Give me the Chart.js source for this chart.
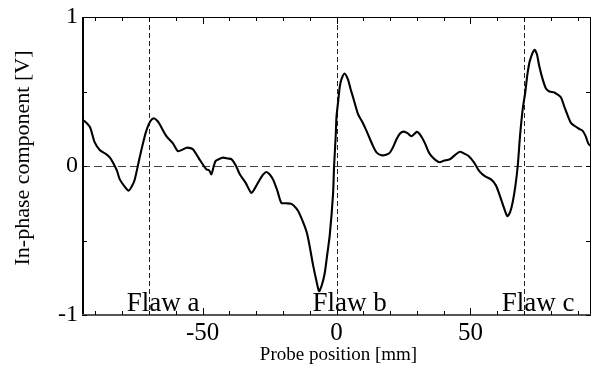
<!DOCTYPE html>
<html>
<head>
<meta charset="utf-8">
<script src="https://cdn.jsdelivr.net/npm/chart.js@4.4.1/dist/chart.umd.min.js"></script>
<style>
html,body{margin:0;padding:0;background:#fff;}
#wrap{width:593px;height:367px;}
</style>
</head>
<body>
<div id="wrap"><canvas id="c" width="593" height="367"></canvas></div>
<script>
// Probe position [mm]
const positions = [-95,-94,-92,-90.3,-88.3,-86,-84.5,-83.4,-82,-80.9,-79,-77.6,-76.5,-75.3,-73.5,-72,-71,-69.5,-68.2,-67,-66,-63.5,-61,-59.2,-57.5,-56,-54.5,-53.6,-52,-51,-49.5,-48.6,-47.5,-46.7,-45.8,-45.1,-44,-42.4,-40.5,-39.2,-37.5,-36.1,-34,-31.8,-30.5,-29.3,-27.5,-26.2,-25,-23.7,-22,-20.6,-19,-16.8,-15,-13.7,-11.2,-10,-8.8,-7.5,-6.5,-5.5,-4.4,-3.5,-2.5,-1.3,-0.9,-0.3,0,0.6,1.2,1.8,3.0,4.3,5.2,6.2,8.0,9.5,11.2,13.6,15,16.8,18.5,19.9,21.2,22.4,23.8,25.1,26.5,28.0,30.0,31.2,32.9,34.5,35.4,37,38.5,40,42.3,44,46.0,47.5,49.3,51.5,53.3,55.5,57.7,59.5,60.8,62.5,63.8,64.8,65.8,66.8,67.7,68.5,69.5,70.5,71.3,72.2,73.9,74.8,75.7,77,78.2,79.5,81.3,82.5,83.8,85,86.5,87.5,88.8,90.5,91.9,93,94,94.8];
// In-phase component [V]
const inPhase = [0.31,0.30,0.26,0.16,0.106,0.08,0.055,0.022,-0.03,-0.09,-0.14,-0.165,-0.14,-0.09,0.056,0.17,0.236,0.30,0.32,0.305,0.28,0.20,0.15,0.10,0.11,0.123,0.12,0.112,0.07,0.04,0.0,-0.022,-0.03,-0.056,0.0,0.034,0.045,0.056,0.05,0.045,0.0,-0.056,-0.11,-0.18,-0.15,-0.112,-0.06,-0.04,-0.055,-0.09,-0.17,-0.247,-0.25,-0.254,-0.285,-0.325,-0.44,-0.54,-0.66,-0.77,-0.84,-0.80,-0.72,-0.60,-0.46,-0.19,0.0,0.2,0.33,0.43,0.53,0.58,0.62,0.58,0.52,0.46,0.35,0.30,0.236,0.135,0.09,0.072,0.075,0.09,0.13,0.18,0.22,0.231,0.22,0.20,0.229,0.21,0.157,0.09,0.067,0.04,0.025,0.035,0.045,0.07,0.096,0.085,0.067,0.02,-0.034,-0.07,-0.09,-0.13,-0.19,-0.28,-0.337,-0.31,-0.24,-0.13,0.01,0.2,0.38,0.50,0.62,0.707,0.78,0.75,0.67,0.58,0.52,0.50,0.494,0.48,0.46,0.40,0.33,0.29,0.27,0.25,0.236,0.20,0.15,0.135];
const xTickLabels = [-50, 0, 50];
const yTickLabels = [-1, 0, 1];
const xMinorTicks = [-90,-80,-70,-60,-50,-40,-30,-20,-10,0,10,20,30,40,50,60,70,80,90];
const yMinorTicks = [-1,-0.5,0,0.5,1];
const flawPositions = [-70, 0, 70];
const flawNames = ["Flaw a", "Flaw b", "Flaw c"];
const flawLabelLeft = [-78.3, -9.0, 61.7]; // label start positions [mm]
const xRange = [-95, 95];
const yRange = [-1, 1];

const SERIF = "'Liberation Serif', 'Times New Roman', serif";

const decor = {
  id: 'decor',
  beforeDatasetsDraw(chart) {
    const {ctx, chartArea: a, scales: {x, y}} = chart;
    ctx.save();
    ctx.strokeStyle = '#444';
    ctx.lineWidth = 1.2;
    ctx.setLineDash([8, 4]);
    ctx.beginPath();
    const y0 = Math.round(y.getPixelForValue(0)) + 0.5;
    ctx.moveTo(a.left, y0); ctx.lineTo(a.right, y0);
    ctx.stroke();
    ctx.strokeStyle = '#222';
    ctx.lineWidth = 1;
    ctx.setLineDash([5, 3]);
    flawPositions.forEach(v => {
      const px = Math.round(x.getPixelForValue(v)) + 0.5;
      ctx.beginPath(); ctx.moveTo(px, a.top); ctx.lineTo(px, a.bottom); ctx.stroke();
    });
    ctx.restore();
  },
  afterDraw(chart) {
    const {ctx, chartArea: a, scales: {x, y}} = chart;
    ctx.save();
    ctx.setLineDash([]);
    ctx.strokeStyle = '#000';
    ctx.lineWidth = 1;
    ctx.beginPath();
    ctx.moveTo(a.left, a.top + 0.5); ctx.lineTo(a.right, a.top + 0.5);
    ctx.moveTo(a.right - 0.5, a.top); ctx.lineTo(a.right - 0.5, a.bottom);
    ctx.stroke();
    ctx.lineWidth = 2;
    ctx.beginPath();
    ctx.moveTo(a.left + 1, a.top); ctx.lineTo(a.left + 1, a.bottom + 1);
    ctx.stroke();
    ctx.strokeStyle = '#555';
    ctx.beginPath();
    ctx.moveTo(a.left, a.bottom); ctx.lineTo(a.right, a.bottom);
    ctx.stroke();
    ctx.strokeStyle = '#000';
    ctx.lineWidth = 1;
    xMinorTicks.forEach(v => {
      const px = Math.round(x.getPixelForValue(v)) + 0.5;
      const len = xTickLabels.includes(v) ? 7 : 4;
      ctx.beginPath();
      ctx.moveTo(px, a.bottom); ctx.lineTo(px, a.bottom - len);
      ctx.moveTo(px, a.top); ctx.lineTo(px, a.top + len);
      ctx.stroke();
    });
    yMinorTicks.forEach(v => {
      const py = Math.round(y.getPixelForValue(v)) + 0.5;
      ctx.beginPath();
      ctx.moveTo(a.left, py); ctx.lineTo(a.left + 5, py);
      ctx.moveTo(a.right, py); ctx.lineTo(a.right - 5, py);
      ctx.stroke();
    });
    ctx.fillStyle = '#000';
    ctx.font = "27px " + SERIF;
    ctx.textBaseline = 'alphabetic';
    ctx.textAlign = 'left';
    flawNames.forEach((t, i) => {
      ctx.fillText(t, x.getPixelForValue(flawLabelLeft[i]), a.bottom - 4);
    });
    ctx.font = "19px " + SERIF;
    ctx.textAlign = 'center';
    ctx.textBaseline = 'middle';
    ctx.fillText('Probe position [mm]', (a.left + a.right) / 2 + 2, 355);
    ctx.font = "22px " + SERIF;
    ctx.save();
    ctx.translate(23, 158);
    ctx.rotate(-Math.PI / 2);
    ctx.fillText('In-phase component [V]', 0, 0);
    ctx.restore();
    ctx.restore();
  }
};

new Chart(document.getElementById('c'), {
  type: 'scatter',
  data: {
    datasets: [{
      data: positions.map((p, i) => ({x: p, y: inPhase[i]})),
      showLine: true,
      borderColor: '#000',
      borderWidth: 2.1,
      pointRadius: 0,
      tension: 0.25,
      fill: false
    }]
  },
  options: {
    responsive: false,
    animation: false,
    devicePixelRatio: 1,
    layout: {padding: {top: 17, right: 2, left: 0, bottom: 0}},
    plugins: {legend: {display: false}, tooltip: {enabled: false}},
    scales: {
      x: {
        type: 'linear', min: xRange[0], max: xRange[1],
        grid: {display: false}, border: {display: false},
        afterBuildTicks: s => { s.ticks = xTickLabels.map(v => ({value: v})); },
        afterFit: s => { s.height = 52; },
        ticks: {color: '#000', font: {family: SERIF, size: 25}, padding: -5, maxRotation: 0,
          callback: v => String(v)}
      },
      y: {
        type: 'linear', min: yRange[0], max: yRange[1],
        grid: {display: false}, border: {display: false},
        afterBuildTicks: s => { s.ticks = yTickLabels.map(v => ({value: v})); },
        afterFit: s => { s.width = 82; },
        ticks: {color: '#000', font: {family: SERIF, size: 24}, padding: -4,
          callback: v => String(v)}
      }
    }
  },
  plugins: [decor]
});
</script>
</body>
</html>
